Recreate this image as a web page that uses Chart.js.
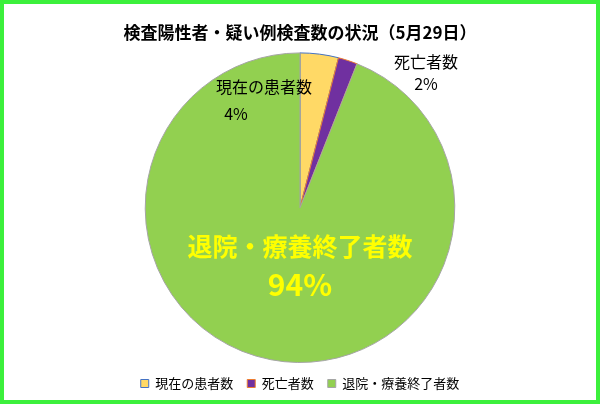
<!DOCTYPE html><html><head><meta charset="utf-8">
<script src="https://cdn.jsdelivr.net/npm/chart.js@4"></script>
<style>html,body{margin:0;padding:0;background:#fff}
#w{position:absolute;left:0;top:0;width:592px;height:396px;border:4px solid #3CF03C;background:#fff}</style></head><body>
<div id="w"><canvas id="c" width="592" height="396"></canvas></div>
<script>
const categories=["現在の患者数","死亡者数","退院・療養終了者数"];
const values=[4,2,94];
const pctLabels=["4%","2%","94%"];
const fills=["#FFD966","#7030A0","#92D050"];
const borders=["#4472C4","#ED7D31","#A5A5A5"];
const F="'Noto Sans CJK JP','Noto Sans',sans-serif";
const lbl={id:'lbl',afterDatasetsDraw(ch){
 const c=ch.ctx,m=ch.getDatasetMeta(0);c.save();c.textAlign='center';c.textBaseline='middle';
 const cx=m.data[0].x,cy=m.data[0].y;
 c.fillStyle='#000';c.font='16px '+F;
 c.fillText(categories[0],cx-36,cy-121);c.fillText(pctLabels[0],cx-64,cy-94);
 c.fillText(categories[1],cx+126,cy-146);c.fillText(pctLabels[1],cx+126,cy-124);
 c.fillStyle='#FFFF00';c.font='bold 25px '+F;
 c.fillText(categories[2],cx,cy+39);c.font='bold 30px '+F;c.fillText(pctLabels[2],cx,cy+77);
 c.restore();}};
new Chart(document.getElementById('c'),{type:'pie',
 data:{labels:categories,datasets:[{data:values,backgroundColor:fills,borderColor:borders,borderWidth:1}]},
 options:{responsive:false,animation:false,layout:{padding:{top:12,bottom:0}},
  plugins:{tooltip:{enabled:false},
   title:{display:true,text:'検査陽性者・疑い例検査数の状況（5月29日）',color:'#000',font:{family:F,size:17,weight:'bold'},padding:{top:6,bottom:10}},
   legend:{position:'bottom',labels:{color:'#000',font:{family:F,size:13},boxWidth:8,boxHeight:8,padding:14}}}},
 plugins:[lbl]});
</script></body></html>
